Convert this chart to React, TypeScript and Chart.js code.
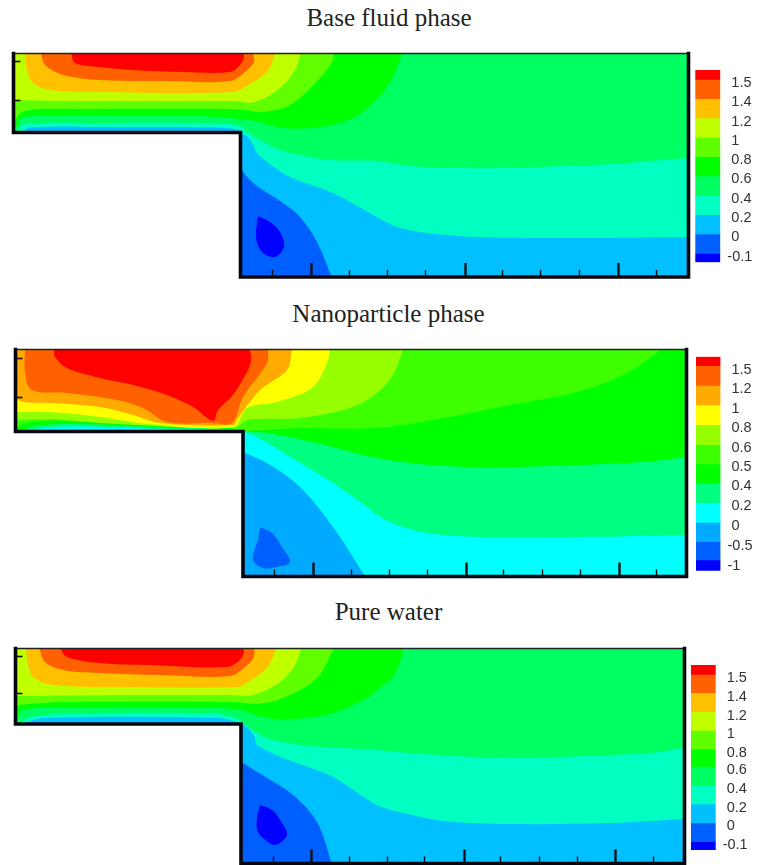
import React, { useEffect, useRef } from "react";
import { Chart, registerables } from "chart.js";

Chart.register(...registerables);

type P = [number, number];

// ---------- Titles ----------
const panelTitles = ["Base fluid phase", "Nanoparticle phase", "Pure water"];

// ---------- Colour-bar labels and band edges ----------
const fluidLegendLabels = ["1.5", "1.4", "1.2", "1", "0.8", "0.6", "0.4", "0.2", "0", "-0.1"];
const particleLegendLabels = ["1.5", "1.2", "1", "0.8", "0.6", "0.5", "0.4", "0.2", "0", "-0.5", "-1"];
const waterLegendLabels = fluidLegendLabels;

const fluidLegendEdges = [70, 79.3, 98.7, 118, 137.3, 156.7, 176, 195.3, 214.7, 234, 253.3, 262.3];
const particleLegendEdges = [356.7, 365.7, 385.3, 405, 424.7, 444.7, 464, 483.3, 502.7, 522.3, 541.7, 560, 570.7];
const waterLegendEdges = [665, 674.3, 692.7, 711.7, 730.3, 749, 766.3, 785.7, 804, 823, 841.7, 850];

const fluidLegendTicks = [82.7, 102.3, 121.7, 141, 160, 179.3, 199, 218.3, 237.3, 257];
const particleLegendTicks = [370, 389.3, 409, 428.3, 447.7, 466.7, 486, 506, 525.7, 545.7, 566];
const waterLegendTicks = [677.7, 696.7, 715.7, 734, 752.7, 770, 789, 808, 826.3, 845.3];

const fluidLegendColors = ["#ff0000", "#ff6000", "#ffc000", "#c0ff00", "#60ff00", "#00ff00", "#00ff60", "#00ffc0", "#00c0ff", "#0060ff", "#0000ff"];
const particleLegendColors = ["#ff0000", "#ff6000", "#ffaa00", "#ffff00", "#95ff00", "#3dff00", "#00ff00", "#00ff80", "#00ffff", "#00aaff", "#0060ff", "#0000ff"];

// ---------- Axis ticks ----------
const fluidMinorX = [272, 349, 388, 425, 502, 540, 579, 656];
const fluidMajorX = [311, 465, 618];
const fluidY = [61, 100];
const particleMinorX = [274, 351, 389, 427, 503, 542, 580, 656];
const particleMajorX = [313, 466, 619];
const particleY = [358, 397];
const waterMinorX = [273, 349, 387, 424, 500, 539, 577, 653];
const waterMajorX = [311, 464, 615];
const waterY = [656, 693];

// ---------- Base fluid phase contour bands ----------
const fluidBase: P[] = [[13, 53], [689, 53], [689, 278], [240.5, 278], [240.5, 132.5], [13, 132.5]];
const fluidGreen: P[] = [[13, 53], [13, 132], [16, 128], [22, 118], [40, 116], [100, 116], [200, 116], [240, 119], [260, 122], [283, 128], [320, 127], [353, 118], [377, 99], [390, 82], [400, 60], [402, 53]];
const fluidLime: P[] = [[13, 53], [13, 122], [15, 120], [22, 112], [40, 109], [100, 109], [220, 109], [245, 110], [262, 112], [290, 105], [320, 78], [333, 60], [333, 53]];
const fluidYellowGreen: P[] = [[13, 53], [13, 100], [60, 101], [233, 101], [255, 102], [280, 88], [295, 70], [301, 53]];
const fluidAmber: P[] = [[25, 53], [27, 70], [33, 83], [50, 90], [100, 92], [233, 92], [248, 85], [267, 72], [274, 57], [275, 53]];
const fluidOrange: P[] = [[41, 53], [45, 65], [63, 75], [100, 80], [167, 81], [230, 81], [245, 72], [254, 62], [253, 53]];
const fluidRed: P[] = [[71, 53], [75, 63], [100, 67], [133, 70], [183, 72], [230, 72], [240, 65], [244, 57], [243, 53]];
const fluidTeal: P[] = [[17, 133], [22, 125], [40, 123], [100, 123], [200, 123], [237, 125], [248, 132], [260, 140], [280, 150], [300, 155], [330, 160], [377, 161], [410, 166], [460, 168], [510, 168], [560, 166], [610, 164], [689, 158], [689, 278], [240.5, 278], [240.5, 132.5]];
const fluidSky: P[] = [[21, 133], [30, 127.5], [100, 127], [220, 127.5], [238, 130], [244, 135], [248, 137], [253, 145], [257, 153], [267, 162], [290, 177], [333, 193], [377, 217], [397, 227], [427, 233], [477, 237], [577, 238], [689, 237], [689, 278], [240.5, 278], [240.5, 132.5]];
const fluidBlue: P[] = [[240, 168], [253, 183], [283, 203], [300, 217], [317, 242], [332, 278], [240, 278]];
const fluidDeep: P[] = [[258, 216], [270, 222], [280, 232], [284, 247], [275, 257], [263, 253], [257, 243], [256, 230]];

// ---------- Nanoparticle phase contour bands ----------
const particleBase: P[] = [[15, 349], [687, 349], [687, 577], [243, 577], [243, 431.5], [15, 431.5]];
const particleLime: P[] = [[15, 349], [15, 430], [17, 427], [30, 422], [79, 421], [150, 425], [233, 428.5], [243, 431], [300, 428], [377, 428], [444, 418], [510, 405], [577, 392], [627, 373], [662, 349]];
const particleYellowGreen: P[] = [[15, 349], [15, 420], [50, 419], [100, 423], [233, 428], [248, 420], [300, 418], [350, 408], [377, 393], [394, 373], [403, 349]];
const particleYellow: P[] = [[15, 349], [15, 412], [50, 412], [100, 417], [150, 424], [233, 427], [247, 408], [277, 402], [313, 387], [328, 360], [330, 349]];
const particleOrange: P[] = [[15, 349], [15, 398], [23, 402], [50, 403], [100, 407], [133, 415], [160, 423], [233, 425], [238, 418], [260, 390], [287, 370], [292, 349]];
const particleOrangeRed: P[] = [[25, 349], [25, 373], [32, 390], [67, 393], [117, 400], [143, 408], [167, 422], [213, 423], [232, 423], [243, 397], [267, 363], [268, 349]];
const particleRed: P[] = [[54, 349], [55, 357], [67, 368], [100, 378], [133, 385], [167, 395], [193, 407], [213, 421], [218, 410], [233, 395], [248, 370], [251, 360], [250, 349]];
const particleSpring: P[] = [[19, 432], [35, 426], [79, 424], [150, 427], [233, 429.5], [243, 431.5], [267, 433], [317, 443], [377, 458], [444, 466], [510, 467], [577, 465], [644, 462], [687, 457], [687, 577], [243, 577], [243, 431.5]];
const particleCyan: P[] = [[24, 432], [45, 428], [79, 426.5], [150, 428.5], [233, 430.5], [243, 431.5], [257, 437], [290, 457], [333, 483], [367, 507], [377, 515], [397, 525], [427, 533], [477, 537], [577, 537], [687, 535], [687, 577], [243, 577], [243, 431.5]];
const particleSky: P[] = [[243, 452], [267, 463], [300, 487], [333, 527], [363, 573], [365, 577], [243, 577]];
const particleBlue: P[] = [[260, 527], [272, 533], [282, 547], [290, 562], [277, 567], [263, 568], [253, 560], [258, 540]];

// ---------- Pure water contour bands ----------
const waterBase: P[] = [[15, 648], [685, 648], [685, 864], [241, 864], [241, 724], [15, 724]];
const waterGreen: P[] = [[15, 648], [15, 724], [17, 720], [23, 710], [67, 708], [217, 708], [240, 710], [267, 718], [293, 719], [333, 713], [367, 698], [377, 690], [394, 675], [402, 655], [404, 648]];
const waterLime: P[] = [[15, 648], [15, 708], [20, 705], [67, 702], [233, 702], [257, 704], [283, 698], [317, 678], [334, 648]];
const waterYellowGreen: P[] = [[15, 648], [15, 696], [133, 695], [233, 695], [253, 695], [280, 682], [295, 665], [301, 648]];
const waterAmber: P[] = [[26, 648], [28, 665], [33, 677], [53, 685], [133, 687], [237, 687], [248, 682], [267, 668], [275, 652], [275, 648]];
const waterOrange: P[] = [[39, 648], [45, 662], [63, 670], [100, 673], [160, 675], [230, 676], [245, 667], [254, 657], [254, 648]];
const waterRed: P[] = [[60, 648], [67, 657], [100, 663], [150, 665], [227, 667], [240, 660], [244, 652], [243, 648]];
const waterTeal: P[] = [[20, 724], [30, 717], [67, 714], [200, 713], [233, 717], [253, 730], [267, 738], [300, 745], [377, 750], [410, 753], [477, 757], [544, 757], [610, 755], [660, 752], [685, 747], [685, 864], [241, 864], [241, 724]];
const waterSky: P[] = [[23, 724], [43, 718], [217, 718], [240, 723], [248, 728], [255, 738], [257, 745], [283, 758], [333, 777], [377, 805], [404, 813], [444, 821], [510, 824], [610, 823], [685, 819], [685, 864], [241, 864], [241, 724]];
const waterBlue: P[] = [[241, 762], [267, 778], [293, 795], [317, 822], [332, 864], [241, 864]];
const waterDeep: P[] = [[260, 805], [272, 810], [282, 823], [287, 835], [275, 845], [263, 838], [257, 830], [257, 817]];

// ---------- Layouts ----------
type Band = { points: P[]; color: string };
type PanelSpec = {
  box: { x0: number; x1: number; y0: number; y1: number; stepX: number; stepY: number };
  canvasTop: number;
  canvasHeight: number;
  bands: Band[];
  minorX: number[];
  majorX: number[];
  leftTicks: number[];
};
type LegendSpec = { left: number; right: number; top: number; bottom: number; canvasTop: number; edges: number[]; ticks: number[]; labels: string[]; colors: string[] };

const panels: PanelSpec[] = [
  {
    box: { x0: 13.5, x1: 688.5, y0: 53.5, y1: 277, stepX: 240.5, stepY: 132.5 },
    canvasTop: 44, canvasHeight: 240,
    bands: [
      { points: fluidBase, color: "#00ff60" }, { points: fluidGreen, color: "#00ff00" }, { points: fluidLime, color: "#60ff00" },
      { points: fluidYellowGreen, color: "#c0ff00" }, { points: fluidAmber, color: "#ffc000" }, { points: fluidOrange, color: "#ff6000" },
      { points: fluidRed, color: "#ff0000" }, { points: fluidTeal, color: "#00ffc0" }, { points: fluidSky, color: "#00c0ff" },
      { points: fluidBlue, color: "#0060ff" }, { points: fluidDeep, color: "#0000ff" },
    ],
    minorX: fluidMinorX, majorX: fluidMajorX, leftTicks: fluidY,
  },
  {
    box: { x0: 15.5, x1: 686.5, y0: 349.5, y1: 576.5, stepX: 243, stepY: 431.5 },
    canvasTop: 340, canvasHeight: 245,
    bands: [
      { points: particleBase, color: "#00ff00" }, { points: particleLime, color: "#3dff00" }, { points: particleYellowGreen, color: "#95ff00" },
      { points: particleYellow, color: "#ffff00" }, { points: particleOrange, color: "#ffaa00" }, { points: particleOrangeRed, color: "#ff6000" },
      { points: particleRed, color: "#ff0000" }, { points: particleSpring, color: "#00ff80" }, { points: particleCyan, color: "#00ffff" },
      { points: particleSky, color: "#00aaff" }, { points: particleBlue, color: "#0060ff" },
    ],
    minorX: particleMinorX, majorX: particleMajorX, leftTicks: particleY,
  },
  {
    box: { x0: 15.5, x1: 684.5, y0: 648.5, y1: 863.5, stepX: 241, stepY: 724 },
    canvasTop: 640, canvasHeight: 225,
    bands: [
      { points: waterBase, color: "#00ff60" }, { points: waterGreen, color: "#00ff00" }, { points: waterLime, color: "#60ff00" },
      { points: waterYellowGreen, color: "#c0ff00" }, { points: waterAmber, color: "#ffc000" }, { points: waterOrange, color: "#ff6000" },
      { points: waterRed, color: "#ff0000" }, { points: waterTeal, color: "#00ffc0" }, { points: waterSky, color: "#00c0ff" },
      { points: waterBlue, color: "#0060ff" }, { points: waterDeep, color: "#0000ff" },
    ],
    minorX: waterMinorX, majorX: waterMajorX, leftTicks: waterY,
  },
];

const legends: LegendSpec[] = [
  { left: 695.3, right: 720.3, top: 70, bottom: 262.3, canvasTop: 60, edges: fluidLegendEdges, ticks: fluidLegendTicks, labels: fluidLegendLabels, colors: fluidLegendColors },
  { left: 696, right: 720.5, top: 356.7, bottom: 570.7, canvasTop: 346, edges: particleLegendEdges, ticks: particleLegendTicks, labels: particleLegendLabels, colors: particleLegendColors },
  { left: 691, right: 715.7, top: 665, bottom: 850, canvasTop: 655, edges: waterLegendEdges, ticks: waterLegendTicks, labels: waterLegendLabels, colors: fluidLegendColors },
];

const titleCenters = [389, 388.5, 388.5];
const titleTops = [3.5, 299.5, 597.5];

const CANVAS_W = 694;

// Points on the frame keep a sharp corner: a doubled point stops the curve from overshooting.
function curvePoints(list: P[], b: PanelSpec["box"]) {
  const out: { x: number; y: number }[] = [];
  for (const [x, y] of list) {
    out.push({ x, y });
    const onFrame = x <= b.x0 || x >= b.x1 || y <= b.y0 || y >= b.y1 || (x === b.stepX && y === b.stepY);
    if (onFrame) out.push({ x, y });
  }
  return out;
}
const pts = (list: P[]) => list.map(([x, y]) => ({ x, y }));
const zeroWidth = (s: any) => { s.width = 0; };
const zeroHeight = (s: any) => { s.height = 0; };

function tickAxis(position: string, values: number[], length: number, width: number, min: number, max: number, reverse = false) {
  const horizontal = position === "bottom";
  return {
    type: "linear",
    position,
    min,
    max,
    reverse,
    border: { display: false },
    grid: { drawOnChartArea: false, drawTicks: true, tickLength: -length, tickWidth: width, tickColor: "#111", z: 2 },
    ticks: { display: false, autoSkip: false },
    afterBuildTicks: (s: any) => { s.ticks = values.map((value) => ({ value })); },
    afterFit: horizontal ? zeroHeight : zeroWidth,
  };
}

function makePanel(canvas: HTMLCanvasElement, p: PanelSpec) {
  const b = p.box;
  const n = p.bands.length + 2;
  const datasets: any[] = p.bands.map((band, i) => ({
    data: curvePoints(band.points, b),
    showLine: true,
    fill: "shape",
    tension: 0.35,
    backgroundColor: band.color,
    borderWidth: 0,
    pointRadius: 0,
    order: n - i,
  }));
  const outline: P[] = [[b.x0, b.y0], [b.x0, b.stepY], [b.stepX, b.stepY], [b.stepX, b.y1], [b.x1, b.y1], [b.x1, b.y0]];
  const topEdge: P[] = [[b.x0, b.y0], [b.x1, b.y0]];
  datasets.push({ data: pts(topEdge), showLine: true, fill: false, borderColor: "#222", borderWidth: 1.6, pointRadius: 0, clip: false, order: 1 });
  datasets.push({ data: pts(outline), showLine: true, fill: false, borderColor: "#050510", borderWidth: 3.6, borderCapStyle: "square", borderJoinStyle: "miter", pointRadius: 0, clip: false, order: 0 });

  return new Chart(canvas, {
    type: "scatter",
    data: { datasets },
    options: {
      animation: false,
      responsive: false,
      devicePixelRatio: 1,
      layout: {
        autoPadding: false,
        padding: { left: b.x0, right: CANVAS_W - b.x1, top: b.y0 - p.canvasTop, bottom: p.canvasTop + p.canvasHeight - b.y1 },
      },
      plugins: { legend: { display: false }, tooltip: { enabled: false }, title: { display: false } },
      scales: {
        x: tickAxis("bottom", p.minorX, 7, 1.4, b.x0, b.x1),
        xMajor: tickAxis("bottom", p.majorX, 14, 2.4, b.x0, b.x1),
        y: tickAxis("left", p.leftTicks, 7, 1.6, b.y0, b.y1, true),
      },
    },
  } as any);
}

function makeLegend(canvas: HTMLCanvasElement, l: LegendSpec, originX: number, width: number, height: number) {
  const datasets = l.colors.map((color, i) => ({
    data: [[l.edges[i], l.edges[i + 1]]],
    backgroundColor: color,
    borderWidth: 0,
    barPercentage: 1,
    categoryPercentage: 1,
    grouped: false,
  }));
  return new Chart(canvas, {
    type: "bar",
    data: { labels: ["scale"], datasets },
    options: {
      animation: false,
      responsive: false,
      devicePixelRatio: 1,
      layout: {
        autoPadding: false,
        padding: { left: l.left - originX, right: 0, top: l.top - l.canvasTop, bottom: l.canvasTop + height - l.bottom },
      },
      plugins: { legend: { display: false }, tooltip: { enabled: false }, title: { display: false } },
      scales: {
        x: { display: false, offset: true },
        y: {
          type: "linear",
          position: "right",
          reverse: true,
          min: l.top,
          max: l.bottom,
          border: { display: false },
          grid: { display: false, drawTicks: false },
          ticks: {
            autoSkip: false,
            padding: 7,
            color: "#333",
            font: { family: "'Liberation Sans', Arial, sans-serif", size: 14.5 },
            callback: (_v: any, i: number) => (l.labels[i].startsWith("-") ? l.labels[i] : " " + l.labels[i]),
          },
          afterBuildTicks: (s: any) => { s.ticks = l.ticks.map((value) => ({ value })); },
          afterFit: (s: any) => {
            s.width = 757 - l.right;
            s.paddingTop = 0;
            s.paddingBottom = 0;
          },
        },
      },
    },
  } as any);
}

const legendOrigin = (l: LegendSpec) => Math.floor(l.left);
const legendHeight = (l: LegendSpec) => Math.ceil(l.bottom - l.canvasTop + 10);

export default function App() {
  const panelRefs = useRef<(HTMLCanvasElement | null)[]>([]);
  const legendRefs = useRef<(HTMLCanvasElement | null)[]>([]);

  useEffect(() => {
    const charts: Chart[] = [];
    panels.forEach((p, i) => {
      const c = panelRefs.current[i];
      if (c) charts.push(makePanel(c, p));
    });
    legends.forEach((l, i) => {
      const c = legendRefs.current[i];
      const o = legendOrigin(l);
      if (c) charts.push(makeLegend(c, l, o, 757 - o, legendHeight(l)));
    });
    return () => charts.forEach((c) => c.destroy());
  }, []);

  return (
    <div style={{ position: "absolute", left: 0, top: 0, width: 757, height: 865, overflow: "hidden", background: "#fff" }}>
      {panels.map((p, i) => (
        <canvas
          key={"p" + i}
          ref={(el) => { panelRefs.current[i] = el; }}
          width={CANVAS_W}
          height={p.canvasHeight}
          style={{ position: "absolute", left: 0, top: p.canvasTop, display: "block" }}
        />
      ))}
      {legends.map((l, i) => (
        <canvas
          key={"l" + i}
          ref={(el) => { legendRefs.current[i] = el; }}
          width={757 - legendOrigin(l)}
          height={legendHeight(l)}
          style={{ position: "absolute", left: legendOrigin(l), top: l.canvasTop, display: "block" }}
        />
      ))}
      {panelTitles.map((t, i) => (
        <div
          key={t}
          style={{
            position: "absolute",
            left: titleCenters[i] - 200,
            width: 400,
            top: titleTops[i],
            textAlign: "center",
            fontFamily: "'Liberation Serif', 'Times New Roman', serif",
            fontSize: 25,
            lineHeight: "28px",
            color: "#222",
            whiteSpace: "nowrap",
          }}
        >
          {t}
        </div>
      ))}
    </div>
  );
}
